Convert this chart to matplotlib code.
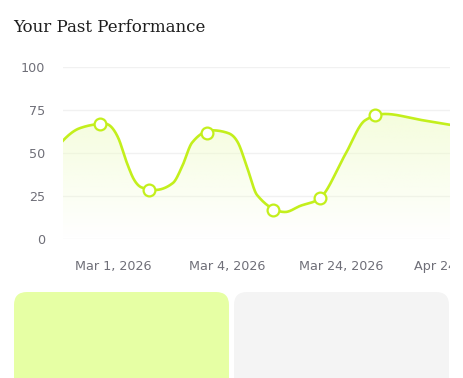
import numpy as np
import matplotlib
matplotlib.use("Agg")
import matplotlib.pyplot as plt
from matplotlib.patches import FancyBboxPatch, Polygon
from matplotlib.transforms import Bbox, TransformedBbox

# x = position in tick units (ticks at 0..3)
# line knots (the curve passes through these, dots only on the scores)
line_pos = [-0.640, -0.289, -0.070, 0.044, 0.123, 0.180, 0.250, 0.368, 0.526, 0.605, 0.693,
            0.868, 1.009, 1.096, 1.184, 1.263, 1.509, 1.640, 1.816, 2.035, 2.211,
            2.386, 2.693, 3.219]
line_vals = [40, 64.5, 67, 59, 44, 35, 30, 28.5, 32.6, 42, 56,
             63.2, 61.6, 56, 40, 25.6, 15.7, 19.2, 23.8, 48.9, 69,
             72.7, 69.3, 63.5]
score_pos = [-0.114, 0.316, 0.825, 1.404, 1.816, 2.298]
scores = [67, 28.5, 61.6, 16.9, 23.8, 72]
tick_labels = ["Mar 1, 2026", "Mar 4, 2026", "Mar 24, 2026", "Apr 24, 2026"]
y_ticks = [0, 25, 50, 75, 100]

LIME = "#c3ef1c"
GREY = "#6f6f78"


def monotone(x, y, n=40):
    # d3-style monotoneX curve
    x = np.asarray(x, float)
    y = np.asarray(y, float)
    h = np.diff(x)
    s = np.diff(y) / h
    m = np.zeros(len(x))
    for i in range(1, len(x) - 1):
        p = (s[i - 1] * h[i] + s[i] * h[i - 1]) / (h[i - 1] + h[i])
        m[i] = (np.sign(s[i - 1]) + np.sign(s[i])) * min(abs(s[i - 1]), abs(s[i]), 0.5 * abs(p))
    m[0] = (3 * s[0] - m[1]) / 2
    m[-1] = (3 * s[-1] - m[-2]) / 2
    xs, ys = [], []
    for i in range(len(x) - 1):
        t = np.linspace(0, 1, n)
        h00 = 2 * t**3 - 3 * t**2 + 1
        h10 = t**3 - 2 * t**2 + t
        h01 = -2 * t**3 + 3 * t**2
        h11 = t**3 - t**2
        xs.append(x[i] + t * h[i])
        ys.append(h00 * y[i] + h10 * h[i] * m[i] + h01 * y[i + 1] + h11 * h[i] * m[i + 1])
    return np.concatenate(xs), np.concatenate(ys)


fig = plt.figure(figsize=(4.63, 3.78), dpi=100)
fig.text(13 / 463, 1 - 28 / 378, "Your Past Performance", family="DejaVu Serif",
         fontsize=12, color="#1e1e1e", va="center", ha="left")

ax = fig.add_axes([63 / 463, 139 / 378, 387 / 463, 172 / 378])
ax.set_xlim(-0.439, 2.956)
ax.set_ylim(0, 100)

cx, cy = monotone(line_pos, line_vals)

# gradient fill under the curve
grad = np.ones((100, 2, 4))
grad[:, :, :3] = matplotlib.colors.to_rgb("#effcc8")
grad[:, :, 3] = np.linspace(0, 0.85, 100)[:, None]
img = ax.imshow(grad, extent=[-1, 3.5, 0, 100], origin="lower", aspect="auto", zorder=1)
poly = Polygon(np.column_stack([np.r_[cx[0], cx, cx[-1]], np.r_[0, cy, 0]]),
               closed=True, transform=ax.transData, facecolor="none", edgecolor="none")
ax.add_patch(poly)
img.set_clip_path(poly)

ax.plot(cx, cy, color=LIME, lw=1.9, zorder=3, solid_capstyle="round")
ax.plot(score_pos, scores, "o", ms=8.5, mfc="white", mec=LIME, mew=1.6, zorder=4)

for v in y_ticks:
    ax.axhline(v, color="#f1f1f1", lw=1, zorder=0)

ax.set_yticks(y_ticks)
ax.set_xticks([0, 1, 2])
ax.set_xticklabels(tick_labels[:3])
ax.tick_params(length=0, labelsize=9.2, labelcolor=GREY)
ax.tick_params(axis="y", pad=13)
ax.tick_params(axis="x", pad=15)
for sp in ax.spines.values():
    sp.set_visible(False)

# last label, cut at the right edge of the plot
t = ax.text(3, -21 / 172 * 100, tick_labels[3], fontsize=9.2, color=GREY,
            ha="center", va="top", clip_on=True)
t.set_clip_box(TransformedBbox(Bbox([[0, 0], [450 / 463, 1]]), fig.transFigure))

# cards below
for x0, x1, col in [(14, 229, "#e6ffa4"), (234, 449, "#f4f4f4")]:
    card = FancyBboxPatch((x0 / 463, -0.2), (x1 - x0) / 463, (378 - 292) / 378 + 0.2,
                          boxstyle="round,pad=0,rounding_size=0.028",
                          transform=fig.transFigure, facecolor=col, edgecolor="none",
                          mutation_aspect=463 / 378)
    fig.patches.append(card)

fig.savefig("out.png", dpi=100)
